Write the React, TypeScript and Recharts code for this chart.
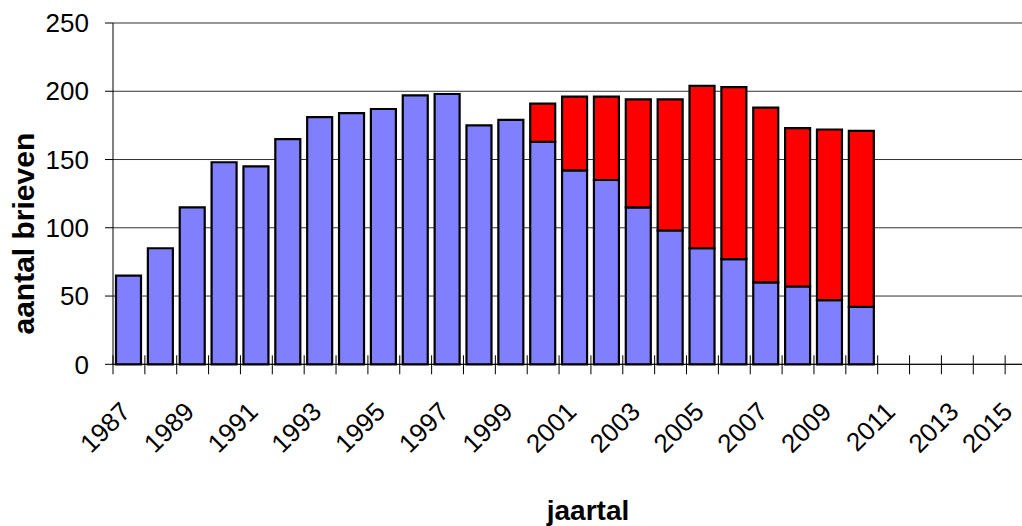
import { BarChart, Bar, XAxis, YAxis, CartesianGrid } from "recharts";

const years = [
  "1987", "1988", "1989", "1990", "1991", "1992", "1993", "1994", "1995", "1996",
  "1997", "1998", "1999", "2000", "2001", "2002", "2003", "2004", "2005", "2006",
  "2007", "2008", "2009", "2010", "2011", "2012", "2013", "2014", "2015",
];

// blue part of each bar, 1987-2010
const blueValues = [
  65, 85, 115, 148, 145, 165, 181, 184, 187, 197, 198, 175, 179,
  163, 142, 135, 115, 98, 85, 77, 60, 57, 47, 42,
];

// red part, only from 2000 on
const redValues = [
  null, null, null, null, null, null, null, null, null, null, null, null, null,
  28, 54, 61, 79, 96, 119, 126, 128, 116, 125, 129,
];

const yTicks = [0, 50, 100, 150, 200, 250];

const CHART_W = 1037;
const PLOT_LEFT = 113;
const BAND = (CHART_W - PLOT_LEFT) / years.length;

const data = years.map((year, i) => ({
  year,
  blue: blueValues[i] ?? null,
  red: redValues[i] ?? null,
}));

function YearTick(props: any) {
  const { x, y, payload } = props;
  const idx = years.indexOf(String(payload.value));
  const bx = x - BAND / 2;
  // keep the last label inside the picture
  const tx = Math.min(x + 3, 1014);
  const ty = y + 49;
  return (
    <g>
      <line x1={bx} y1={y - 9} x2={bx} y2={y + 10} stroke="#000" strokeWidth={1} />
      {idx % 2 === 0 && (
        <text
          x={tx}
          y={ty}
          textAnchor="end"
          transform={`rotate(-45, ${tx}, ${ty})`}
          fontSize={26}
          fill="#000"
        >
          {payload.value}
        </text>
      )}
    </g>
  );
}

export default function App() {
  return (
    <div
      style={{
        position: "absolute",
        left: 0,
        top: 0,
        width: 1022,
        height: 526,
        overflow: "hidden",
        background: "#fff",
        fontFamily: "'Liberation Sans', Arial, sans-serif",
      }}
    >
      <BarChart
        width={CHART_W}
        height={526}
        data={data}
        margin={{ top: 23, right: 0, bottom: 0, left: 0 }}
        barSize={25}
      >
        <CartesianGrid vertical={false} stroke="#333" strokeWidth={1} />
        <XAxis
          dataKey="year"
          interval={0}
          height={161.7}
          tickSize={0}
          tickMargin={0}
          tickLine={false}
          axisLine={{ stroke: "#000", strokeWidth: 1 }}
          tick={<YearTick />}
          label={{
            value: "jaartal",
            position: "insideBottom",
            offset: 6,
            dx: 13,
            style: { fontSize: 28, fontWeight: "bold", fill: "#000" },
          }}
        />
        <YAxis
          width={PLOT_LEFT}
          domain={[0, 250]}
          ticks={yTicks}
          interval={0}
          tickSize={8}
          tickMargin={16}
          tickLine={{ stroke: "#000" }}
          axisLine={{ stroke: "#000", strokeWidth: 1 }}
          tick={{ fontSize: 26, fill: "#000" }}
          label={{
            value: "aantal brieven",
            angle: -90,
            position: "insideLeft",
            offset: 23,
            dy: 40,
            style: { fontSize: 30, fontWeight: "bold", fill: "#000", textAnchor: "middle" },
          }}
        />
        <Bar
          dataKey="blue"
          stackId="a"
          fill="#8080FF"
          stroke="#000"
          strokeWidth={2.2}
          isAnimationActive={false}
        />
        <Bar
          dataKey="red"
          stackId="a"
          fill="#FF0000"
          stroke="#000"
          strokeWidth={2.2}
          isAnimationActive={false}
        />
      </BarChart>
    </div>
  );
}
